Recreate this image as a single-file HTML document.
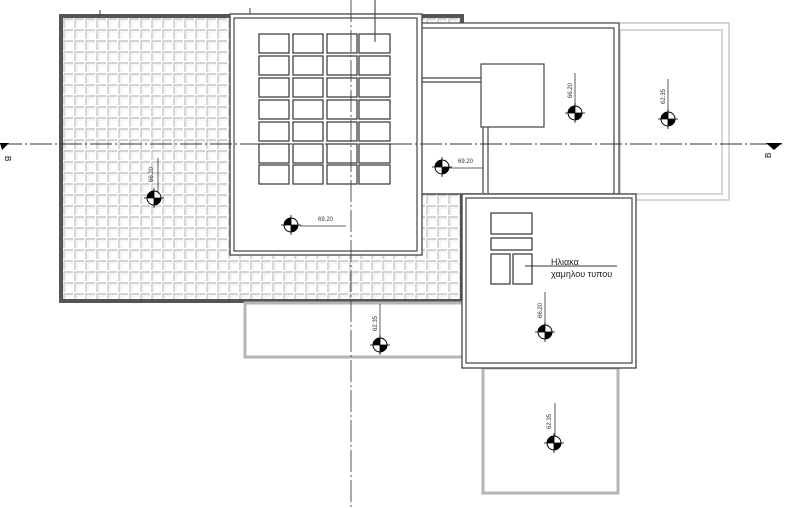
<!DOCTYPE html>
<html><head><meta charset="utf-8"><style>html,body{margin:0;padding:0;background:#fff;width:800px;height:508px;overflow:hidden}</style></head>
<body>
<svg width="800" height="508" viewBox="0 0 800 508" xmlns="http://www.w3.org/2000/svg" font-family="Liberation Sans, DejaVu Sans, sans-serif">
<defs>
<pattern id="tile" x="63" y="18" width="11" height="11" patternUnits="userSpaceOnUse">
<rect width="11" height="11" fill="#fff"/>
<path d="M1 10 V1 H10" fill="none" stroke="#a8a8a8" stroke-width="0.9"/>
<path d="M3 10 V3 H10" fill="none" stroke="#dedede" stroke-width="0.6"/>
</pattern>
<g id="mk">
<circle r="7" fill="#fff" stroke="#000" stroke-width="1"/>
<path d="M0 0 L-7 0 A7 7 0 0 1 0 -7 Z" fill="#000"/>
<path d="M0 0 L7 0 A7 7 0 0 1 0 7 Z" fill="#000"/>
<path d="M-10 0 H10 M0 -10 V10" stroke="#000" stroke-width="0.8"/>
</g>
</defs>

<rect x="61" y="16" width="401" height="285" fill="url(#tile)" stroke="#555" stroke-width="4"/>

<rect x="245" y="303" width="218" height="54" fill="#fff" stroke="#b5b5b5" stroke-width="3"/>
<rect x="483" y="368" width="135" height="125" fill="#fff" stroke="#b5b5b5" stroke-width="3"/>

<rect x="619" y="23" width="110" height="177" fill="#fff" stroke="#c8c8c8" stroke-width="1.5"/>
<rect x="620" y="30" width="102" height="164" fill="none" stroke="#c8c8c8" stroke-width="1.5"/>

<rect x="421" y="23" width="198" height="171" fill="#fff" stroke="#444" stroke-width="1.2"/>
<rect x="421" y="28" width="193" height="166" fill="none" stroke="#444" stroke-width="1.2"/>
<path d="M421 78 H482 M421 82 H482 M483 127 V193 M488 127 V193" stroke="#444" stroke-width="1.2" fill="none"/>
<rect x="481" y="64" width="63" height="63" fill="#fff" stroke="#444" stroke-width="1.2"/>

<rect x="230" y="14" width="192" height="241" fill="#fff" stroke="#444" stroke-width="1.3"/>
<rect x="234" y="18" width="183" height="233" fill="none" stroke="#444" stroke-width="1.2"/>
<g fill="#fff" stroke="#333" stroke-width="1.2">
<rect x="259" y="34" width="30" height="19"/><rect x="293" y="34" width="30" height="19"/><rect x="327" y="34" width="30" height="19"/><rect x="359" y="34" width="31" height="19"/>
<rect x="259" y="56" width="30" height="19"/><rect x="293" y="56" width="30" height="19"/><rect x="327" y="56" width="30" height="19"/><rect x="359" y="56" width="31" height="19"/>
<rect x="259" y="78" width="30" height="19"/><rect x="293" y="78" width="30" height="19"/><rect x="327" y="78" width="30" height="19"/><rect x="359" y="78" width="31" height="19"/>
<rect x="259" y="100" width="30" height="19"/><rect x="293" y="100" width="30" height="19"/><rect x="327" y="100" width="30" height="19"/><rect x="359" y="100" width="31" height="19"/>
<rect x="259" y="122" width="30" height="19"/><rect x="293" y="122" width="30" height="19"/><rect x="327" y="122" width="30" height="19"/><rect x="359" y="122" width="31" height="19"/>
<rect x="259" y="144" width="30" height="19"/><rect x="293" y="144" width="30" height="19"/><rect x="327" y="144" width="30" height="19"/><rect x="359" y="144" width="31" height="19"/>
<rect x="259" y="165" width="30" height="19"/><rect x="293" y="165" width="30" height="19"/><rect x="327" y="165" width="30" height="19"/><rect x="359" y="165" width="31" height="19"/>
</g>
<path d="M375 0 V42" stroke="#333" stroke-width="1"/>

<rect x="462" y="194" width="174" height="174" fill="#fff" stroke="#444" stroke-width="1.3"/>
<rect x="466" y="198" width="166" height="165" fill="none" stroke="#444" stroke-width="1.2"/>
<g fill="#fff" stroke="#333" stroke-width="1.2">
<rect x="491" y="213" width="41" height="21"/><rect x="491" y="238" width="41" height="12"/>
<rect x="491" y="254" width="19" height="30"/><rect x="513" y="254" width="19" height="30"/>
</g>
<path d="M525 266 H617" stroke="#333" stroke-width="1"/>
<text x="551" y="265" font-size="9" fill="#222">Ηλιακα</text>
<text x="551" y="277" font-size="9" fill="#222">χαμηλου τυπου</text>

<path d="M0 144 H782" stroke="#333" stroke-width="1" stroke-dasharray="22 3 2 3"/>
<path d="M351 0 V508" stroke="#444" stroke-width="0.9" stroke-dasharray="22 3 2 3"/>
<path d="M0 143 L9 143 L2 150 Z" fill="#000"/>
<path d="M766 143 L782 143 L774 150 Z" fill="#000"/>
<text transform="translate(5,156) rotate(90)" font-size="8" fill="#000">B</text>
<text transform="translate(771,158) rotate(-90)" font-size="8" fill="#000">B</text>
<path d="M100 10 V16 M250 8 V14" stroke="#444" stroke-width="1"/>

<g font-size="6" fill="#333">
<path d="M158 158 V198" stroke="#333" stroke-width="0.8"/><use href="#mk" x="154" y="198"/>
<text transform="translate(153,182) rotate(-90)">66.20</text>
<path d="M300 226 H346" stroke="#333" stroke-width="0.8"/><use href="#mk" x="291" y="225"/>
<text x="318" y="221">69.20</text>
<path d="M448 168 H483" stroke="#333" stroke-width="0.8"/><use href="#mk" x="442" y="167"/>
<text x="458" y="163">69.20</text>
<path d="M575 73 V113" stroke="#333" stroke-width="0.8"/><use href="#mk" x="575" y="113"/>
<text transform="translate(572,98) rotate(-90)">66.20</text>
<path d="M668 79 V119" stroke="#333" stroke-width="0.8"/><use href="#mk" x="668" y="119"/>
<text transform="translate(665,104) rotate(-90)">62.35</text>
<path d="M545 292 V332" stroke="#333" stroke-width="0.8"/><use href="#mk" x="545" y="332"/>
<text transform="translate(542,318) rotate(-90)">66.20</text>
<path d="M380 304 V345" stroke="#333" stroke-width="0.8"/><use href="#mk" x="380" y="345"/>
<text transform="translate(377,331) rotate(-90)">62.35</text>
<path d="M555 403 V443" stroke="#333" stroke-width="0.8"/><use href="#mk" x="554" y="443"/>
<text transform="translate(551,429) rotate(-90)">62.35</text>
</g>
</svg>
</body></html>
